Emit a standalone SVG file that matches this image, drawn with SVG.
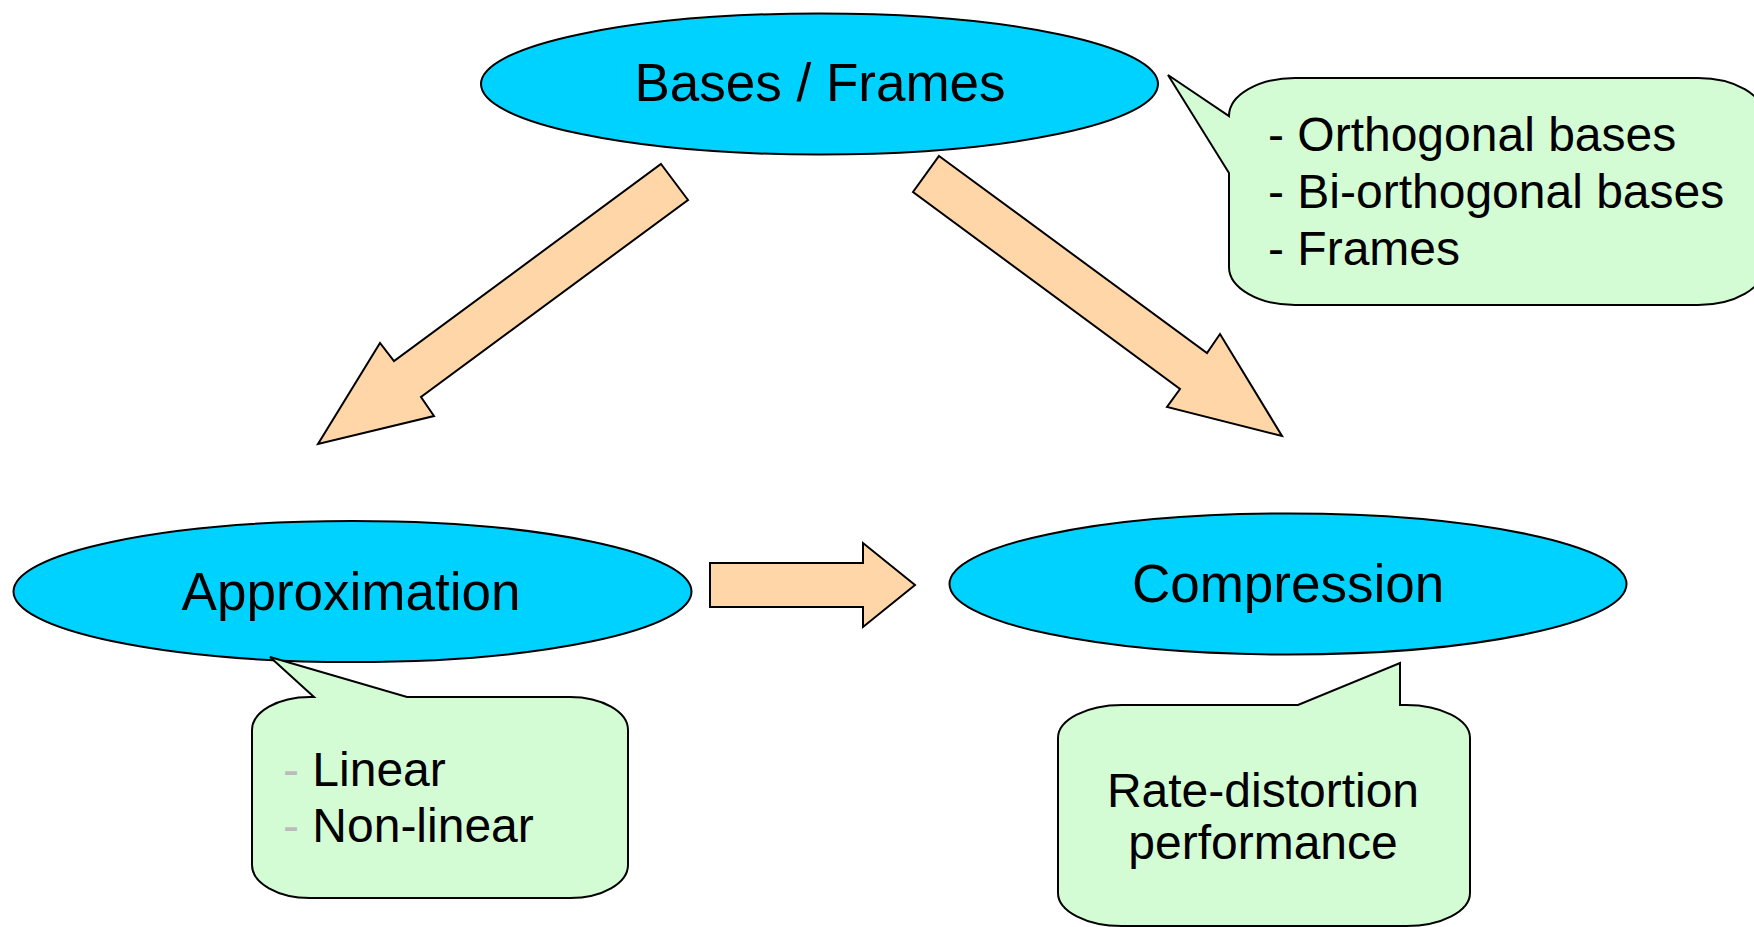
<svg xmlns="http://www.w3.org/2000/svg" width="1754" height="927" viewBox="0 0 1754 927">
<style>
.node{fill:#00D2FF;stroke:#000;stroke-width:2}
.arrow{fill:#FFD6A8;stroke:#000;stroke-width:2;stroke-linejoin:miter}
.callout{fill:#D4FCD4;stroke:#000;stroke-width:2;stroke-linejoin:miter}
.t{font-family:"Liberation Sans",Arial,sans-serif;fill:#000}
.big{font-size:53px;text-anchor:middle}
.small{font-size:48px}
.mid{text-anchor:middle}
.bullet{fill:#BBBBBB}
</style>
<rect width="1754" height="927" fill="#fff"/>
<g id="connectors">
<polygon class="arrow" points="661,164 688,200 421,397 434,416 318,444 380,343 394,361"/>
<polygon class="arrow" points="939,156 1207,353 1220,334 1282,436 1167,407 1180,389 913,192"/>
<polygon class="arrow" points="710,563 863,563 863,543 915,585 863,627 863,607 710,607"/>
</g>
<g id="bases-frames">
<ellipse class="node" cx="819.5" cy="84" rx="338.5" ry="70.5"/>
<text class="t big" x="820" y="101">Bases / Frames</text>
</g>
<g id="approximation">
<ellipse class="node" cx="352.5" cy="591.5" rx="339" ry="70.5"/>
<text class="t big" x="351" y="610">Approximation</text>
</g>
<g id="compression">
<ellipse class="node" cx="1288" cy="584" rx="338.5" ry="70.5"/>
<text class="t big" x="1288" y="602">Compression</text>
</g>
<g id="callout-bases">
<path class="callout" d="M1295,78 L1698,78 A66 38 0 0 1 1764,116 L1764,267 A66 38 0 0 1 1698,305 L1295,305 A66 38 0 0 1 1229,267 L1229,173 L1168,75 L1229,116 A66 38 0 0 1 1295,78 Z"/>
<text class="t small" x="1268" y="151">- Orthogonal bases</text>
<text class="t small" x="1268" y="208">- Bi-orthogonal bases</text>
<text class="t small" x="1268" y="265">- Frames</text>
</g>
<g id="callout-approximation">
<path class="callout" d="M310,697 L314,697 L270,657 L407,697 L570,697 A58 33 0 0 1 628,730 L628,865 A58 33 0 0 1 570,898 L310,898 A58 33 0 0 1 252,865 L252,730 A58 33 0 0 1 310,697 Z"/>
<text class="t small" x="283" y="786"><tspan class="bullet">-</tspan> Linear</text>
<text class="t small" x="283" y="842"><tspan class="bullet">-</tspan> Non-linear</text>
</g>
<g id="callout-compression">
<path class="callout" d="M1122,705 L1298,705 L1400,663 L1400,705 L1406,705 A64 33 0 0 1 1470,738 L1470,893 A64 33 0 0 1 1406,926 L1122,926 A64 33 0 0 1 1058,893 L1058,738 A64 33 0 0 1 1122,705 Z"/>
<text class="t small mid" x="1263" y="807">Rate-distortion</text>
<text class="t small mid" x="1263" y="859">performance</text>
</g>
</svg>
